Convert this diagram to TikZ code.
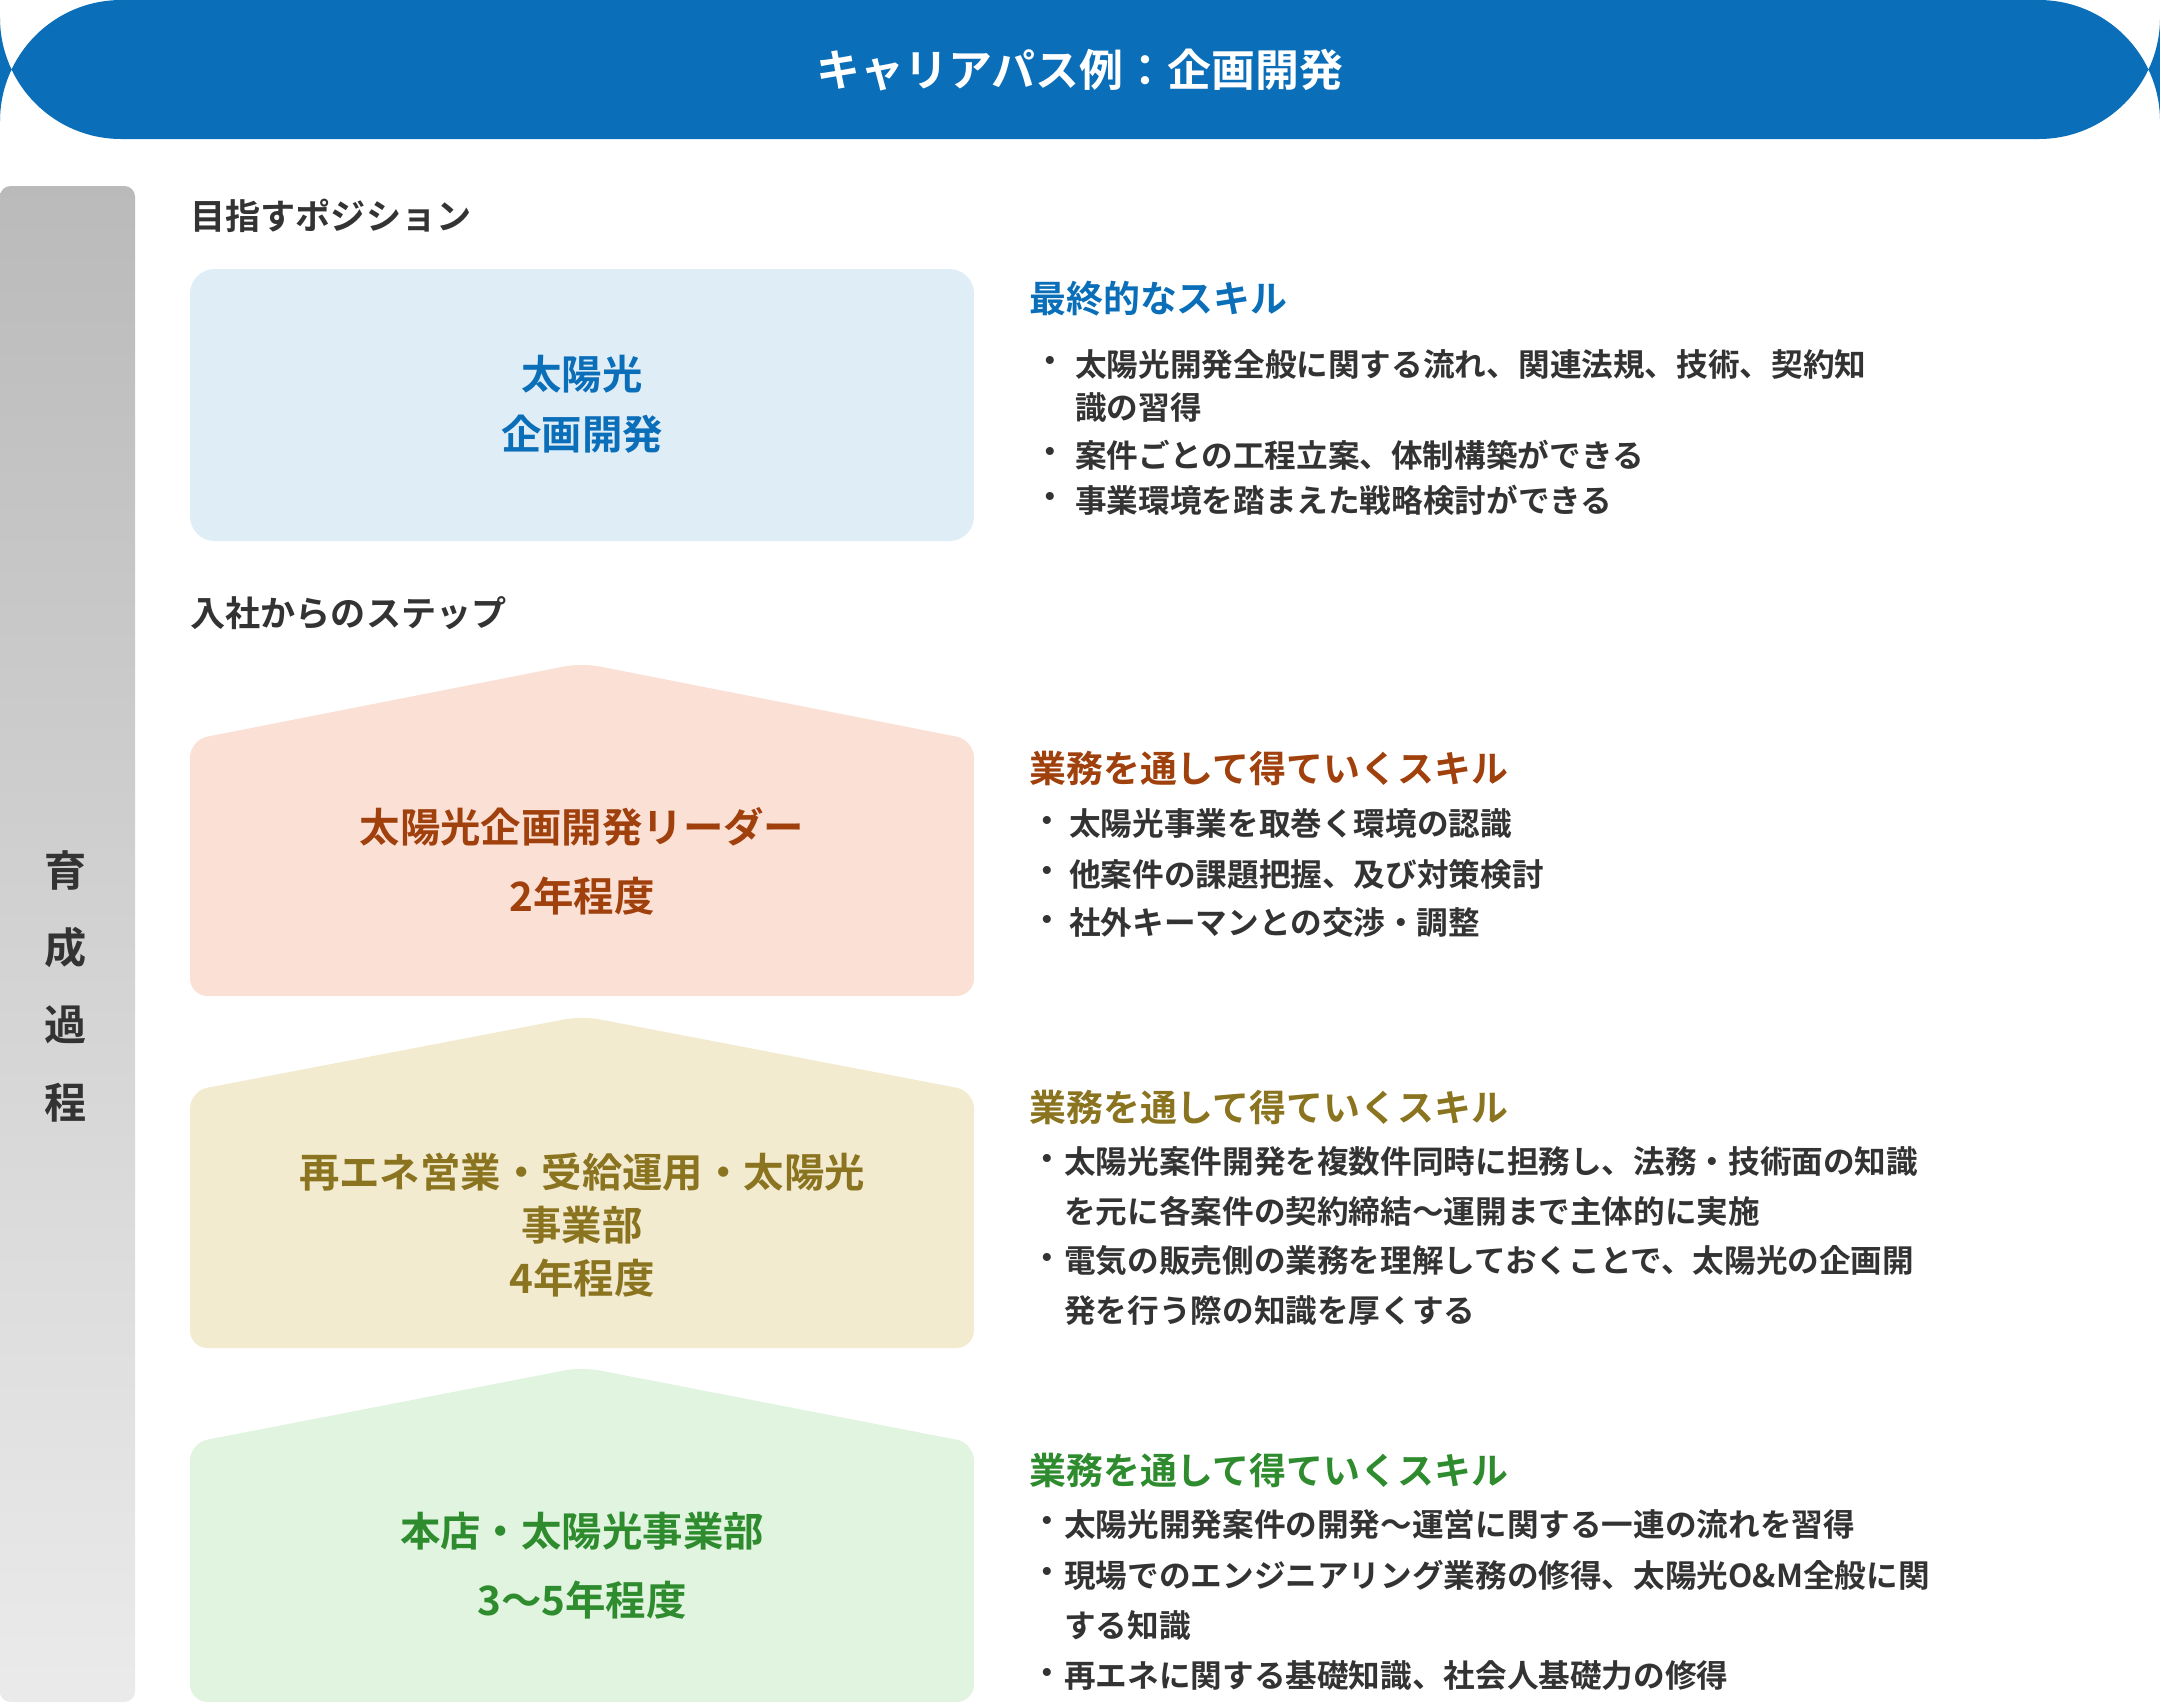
\documentclass[tikz,border=0pt]{standalone}
\usepackage{fontspec}
\setmainfont{Noto Sans CJK JP}[BoldFont={Noto Sans CJK JP Bold}]
\definecolor{tblue}{HTML}{0A6EB8}
\definecolor{dtext}{HTML}{333333}
\definecolor{lblue}{HTML}{DFEDF7}
\definecolor{pinkf}{HTML}{FBE0D6}
\definecolor{pinkt}{HTML}{A0400C}
\definecolor{yelf}{HTML}{F3EBD0}
\definecolor{yelt}{HTML}{8A7420}
\definecolor{grnf}{HTML}{E0F4E0}
\definecolor{grnt}{HTML}{2E8B2E}
\tikzset{
 sec/.style={anchor=west,font=\bfseries\fontsize{20}{24}\selectfont,text=dtext,inner sep=0},
 hd/.style={anchor=west,font=\bfseries\fontsize{21}{25}\selectfont,inner sep=0},
 bl/.style={anchor=west,font=\bfseries\fontsize{18}{22}\selectfont,text=dtext,inner sep=0},
 boxt/.style={align=center,font=\bfseries\fontsize{23}{34}\selectfont,inner sep=0},
}
\begin{document}
\begin{tikzpicture}[x=0.02cm,y=-0.02cm]
\useasboundingbox (0,0) rectangle (2160,1705);
\fill[tblue,rounded corners=69] (0,0) rectangle (2160,139);
\node[text=white,font=\bfseries\fontsize{25}{30}\selectfont] (title) at (1080,70) {キャリアパス例：企画開発};
\shade[top color=black!27,bottom color=black!8,rounded corners=6] (0,186) rectangle (135,1702);
\node[font=\bfseries\fontsize{24}{44}\selectfont,text=dtext,align=center] (ikusei) at (66,986) {育\\成\\過\\程};
\node[sec] (s1) at (190,216) {目指すポジション};
\fill[lblue,rounded corners=14] (190,269) rectangle (974,541);
\node[boxt,text=tblue] (b1) at (582,404) {太陽光\\企画開発};
\node[hd,text=tblue] (h1) at (1029,299) {最終的なスキル};
\foreach \y/\b/\t in {364/・/太陽光開発全般に関する流れ、関連法規、技術、契約知,408//識の習得,455/・/案件ごとの工程立案、体制構築ができる,500/・/事業環境を踏まえた戦略検討ができる}{
 \node[bl] at (1034,\y) {\b}; \node[bl] at (1075,\y) {\t};}
\node[sec] (s2) at (190,613) {入社からのステップ};
% houses
\fill[pinkf,rounded corners=10] (190,996) -- (190,740) -- (582,663) -- (974,740) -- (974,996) -- cycle;
\node[boxt,text=pinkt] (b2) at (582,827) {太陽光企画開発リーダー};
\node[boxt,text=pinkt] (b2b) at (582,896) {2年程度};
\node[hd,text=pinkt] (h2) at (1029,768) {業務を通して得ていくスキル};
\foreach \y/\t in {824/太陽光事業を取巻く環境の認識,874/他案件の課題把握、及び対策検討,923/社外キーマンとの交渉・調整}{
 \node[bl] at (1031,\y) {・}; \node[bl] at (1069,\y) {\t};}
\fill[yelf,rounded corners=10] (190,1348) -- (190,1091) -- (582,1016) -- (974,1091) -- (974,1348) -- cycle;
\node[boxt,text=yelt,font=\bfseries\fontsize{23}{30}\selectfont] (b3) at (582,1225) {再エネ営業・受給運用・太陽光\\事業部\\4年程度};
\node[hd,text=yelt] (h3) at (1029,1107) {業務を通して得ていくスキル};
\foreach \y/\b/\t in {1162/・/太陽光案件開発を複数件同時に担務し、法務・技術面の知識,1211//を元に各案件の契約締結〜運開まで主体的に実施,1261/・/電気の販売側の業務を理解しておくことで、太陽光の企画開,1311//発を行う際の知識を厚くする}{
 \node[bl] at (1031,\y) {\b}; \node[bl] at (1064,\y) {\t};}
\fill[grnf,rounded corners=10] (190,1702) -- (190,1443) -- (582,1367) -- (974,1443) -- (974,1702) -- cycle;
\node[boxt,text=grnt] (b4) at (582,1531) {本店・太陽光事業部};
\node[boxt,text=grnt] (b4b) at (582,1600) {3〜5年程度};
\node[hd,text=grnt] (h4) at (1029,1470) {業務を通して得ていくスキル};
\foreach \y/\b/\t in {1524/・/太陽光開発案件の開発〜運営に関する一連の流れを習得,1575/・/現場でのエンジニアリング業務の修得、太陽光O\&M全般に関,1626//する知識,1676/・/再エネに関する基礎知識、社会人基礎力の修得}{
 \node[bl] at (1031,\y) {\b}; \node[bl] at (1064,\y) {\t};}
\end{tikzpicture}
\end{document}
